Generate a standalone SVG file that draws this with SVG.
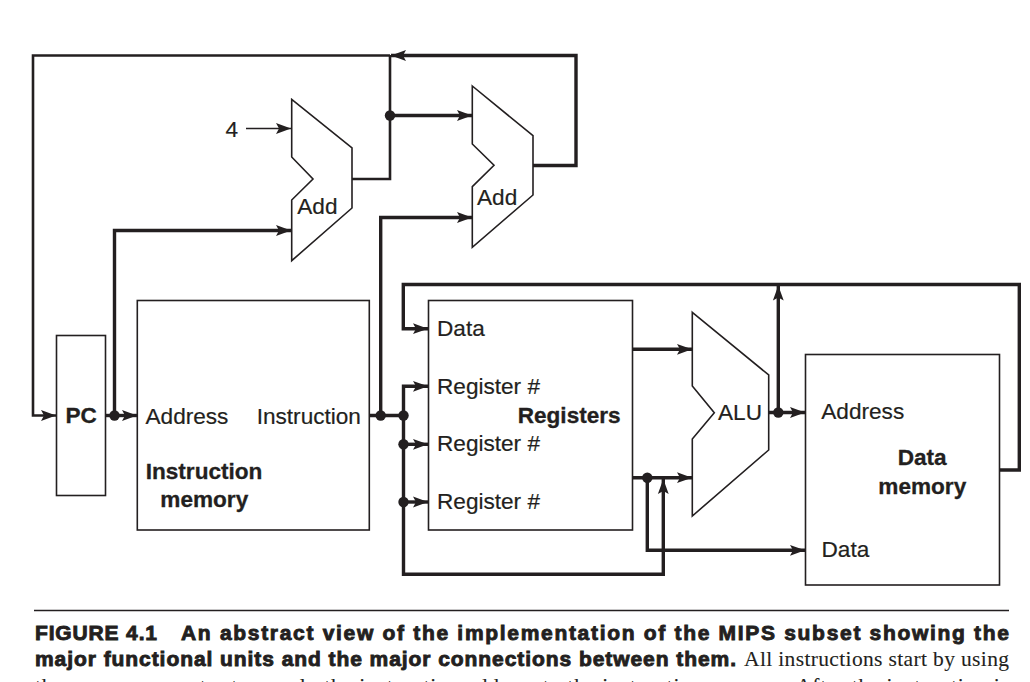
<svg xmlns="http://www.w3.org/2000/svg" width="1030" height="682" viewBox="0 0 1030 682">
<style>
text{fill:#231f20;stroke:#231f20;stroke-width:.2;font-family:"Liberation Sans",Arial,sans-serif;font-size:22.6px}
.b{font-weight:bold;stroke-width:.3}
.box{fill:#fff;stroke:#231f20;stroke-width:1.6}
.c{fill:none;stroke:#231f20;stroke-width:3.4}
.m{stroke-width:2.6}
.t{stroke-width:1.3}
.a{marker-end:url(#arrow)}
.d{fill:#231f20;stroke:none}
.cap{font-weight:bold;font-size:21px;stroke-width:.9}
.ser{font-family:"Liberation Serif","Times New Roman",serif;font-size:21.5px;stroke-width:.1}
</style>
<defs>
<marker id="arrow" markerUnits="userSpaceOnUse" markerWidth="18" markerHeight="14" refX="15" refY="6" orient="auto" overflow="visible">
<path d="M15 6L0 .6L3 6L0 11.4Z" fill="#231f20"/>
</marker>
</defs>
<rect width="1030" height="682" fill="#fff"/>
<g id="connectors">
<path class="c m a" d="M390 55.5H33V415.5H56"/>
<path class="c m" d="M352 179H390V55"/>
<path class="c a" d="M390 115.5H472"/>
<path class="c a" d="M533 165.5H576V55.5H391"/>
<path class="c t a" d="M246 128.5H291"/>
<path class="c a" d="M105 415.5H137"/>
<path class="c a" d="M114.5 415.5V230.5H291"/>
<path class="c" d="M369.5 415.5H403.5"/>
<path class="c a" d="M380.7 415.5V217.5H472"/>
<path class="c a" d="M403.5 415.5V386.3H428"/>
<path class="c a" d="M403.5 444.3H428"/>
<path class="c a" d="M403.5 502H428"/>
<path class="c a" d="M403.5 415.5V574.3H663.3V479"/>
<path class="c a" d="M999.5 470H1019.3V284.5H403.3V328.7H428"/>
<path class="c a" d="M632.5 349.3H692"/>
<path class="c a" d="M632.5 477.7H692"/>
<path class="c a" d="M647.3 477.7V550.3H805"/>
<path class="c a" d="M768.7 412.5H805"/>
<path class="c a" d="M778.3 412.5V285.5"/>
<circle class="d" cx="390" cy="115.5" r="5.2"/>
<circle class="d" cx="114.5" cy="415.5" r="5.2"/>
<circle class="d" cx="380.7" cy="415.5" r="5.2"/>
<circle class="d" cx="403.5" cy="415.5" r="5.2"/>
<circle class="d" cx="403.5" cy="444.3" r="5.2"/>
<circle class="d" cx="403.5" cy="502" r="5.2"/>
<circle class="d" cx="647.3" cy="477.7" r="5.2"/>
<circle class="d" cx="778.3" cy="412.5" r="5.2"/>
</g>
<g id="four"><text x="225.5" y="137">4</text></g>
<g id="add1">
<polygon class="box" points="291.7,99.3 352,148 352,208 291.7,260.7 291.7,200 313,179 291.7,157"/>
<text x="297.3" y="213.5">Add</text>
</g>
<g id="add2">
<polygon class="box" points="472.3,86 533,135.7 533,195 472.3,247.3 472.3,186.7 494,165.3 472.3,144"/>
<text x="477" y="204.5">Add</text>
</g>
<g id="pc">
<rect class="box" x="56.5" y="335.5" width="49" height="160"/>
<text class="b" x="65.5" y="423">PC</text>
</g>
<g id="instruction-memory">
<rect class="box" x="137.3" y="300.5" width="232" height="229.5"/>
<text x="145.5" y="423.7">Address</text>
<text x="256.7" y="423.7">Instruction</text>
<text class="b" x="145.7" y="479">Instruction</text>
<text class="b" x="160.3" y="506.7">memory</text>
</g>
<g id="registers">
<rect class="box" x="428.5" y="300.5" width="204" height="229.5"/>
<text x="437" y="335.5">Data</text>
<text x="437" y="393.7">Register #</text>
<text class="b" x="517.7" y="422.5">Registers</text>
<text x="437" y="451.3">Register #</text>
<text x="437" y="508.5">Register #</text>
</g>
<g id="alu">
<polygon class="box" points="692.3,312.3 768.7,375 768.7,450 692.3,516 692.3,439 714.3,412.7 692.3,386"/>
<text x="718" y="420.3">ALU</text>
</g>
<g id="data-memory">
<rect class="box" x="805.5" y="354.5" width="194" height="230.5"/>
<text x="821.3" y="418.8">Address</text>
<text class="b" x="897.7" y="464.5">Data</text>
<text class="b" x="878.3" y="494">memory</text>
<text x="821.5" y="557.3">Data</text>
</g>
<g id="caption">
<path d="M34 610.5H1009" fill="none" stroke="#231f20" stroke-width="1.5"/>
<text class="cap" x="35" y="640" textLength="122" lengthAdjust="spacing">FIGURE 4.1</text>
<text class="cap" x="181" y="640" textLength="828" lengthAdjust="spacing">An abstract view of the implementation of the MIPS subset showing the</text>
<text class="cap" x="35" y="666" textLength="701" lengthAdjust="spacing">major functional units and the major connections between them.</text>
<text class="ser" x="744" y="666" textLength="265" lengthAdjust="spacing">All instructions start by using</text>
<text class="ser" x="35" y="693" textLength="974" lengthAdjust="spacing">the program counter to supply the instruction address to the instruction memory. After the instruction is</text>
</g>
</svg>
